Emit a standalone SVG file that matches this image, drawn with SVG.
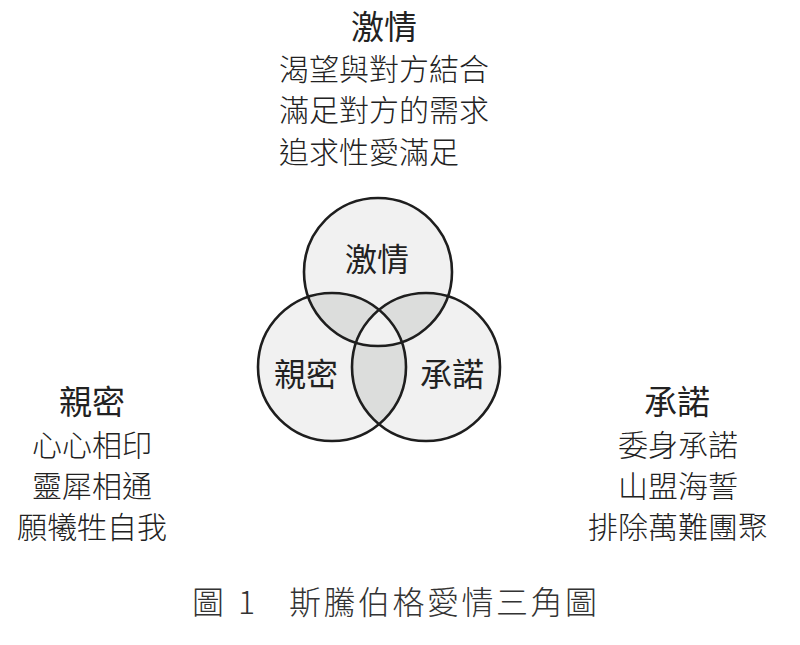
<svg xmlns="http://www.w3.org/2000/svg" width="800" height="645" viewBox="0 0 800 645">
<style>
text{font-family:"Noto Sans CJK TC","Noto Sans CJK SC",sans-serif;fill:#222;}
.h{font-size:33px;font-weight:400;text-anchor:middle;}
.b{font-size:30px;font-weight:300;}
.c{text-anchor:middle;}
.in{font-size:32px;font-weight:400;text-anchor:middle;}
.cap{font-size:32px;font-weight:300;fill:#333;}
.ring{fill:none;stroke:#1e1e1e;stroke-width:2.6;}
</style>
<defs>
<circle id="cT" cx="378" cy="272" r="74"/>
<circle id="cL" cx="332" cy="367" r="74"/>
<circle id="cR" cx="426" cy="367" r="74"/>
<clipPath id="kT"><use href="#cT"/></clipPath>
<clipPath id="kL"><use href="#cL"/></clipPath>
<clipPath id="kR"><use href="#cR"/></clipPath>
</defs>
<rect width="800" height="645" fill="#fff"/>
<g id="fills">
<use href="#cT" fill="#f1f1f1"/>
<use href="#cL" fill="#f1f1f1"/>
<use href="#cR" fill="#f1f1f1"/>
<g clip-path="url(#kT)"><use href="#cL" fill="#dcdddc"/><use href="#cR" fill="#dcdddc"/></g>
<g clip-path="url(#kL)"><use href="#cR" fill="#dcdddc"/></g>
<g clip-path="url(#kT)"><g clip-path="url(#kL)"><use href="#cR" fill="#f1f1f1"/></g></g>
</g>
<g id="passion-circle"><use href="#cT" class="ring"/><text class="in" x="377" y="271">激情</text></g>
<g id="intimacy-circle"><use href="#cL" class="ring"/><text class="in" x="306" y="386">親密</text></g>
<g id="commitment-circle"><use href="#cR" class="ring"/><text class="in" x="452" y="386">承諾</text></g>
<g id="passion-text">
<text class="h" x="384" y="39">激情</text>
<text class="b" x="279" y="80">渴望與對方結合</text>
<text class="b" x="279" y="121">滿足對方的需求</text>
<text class="b" x="279" y="163">追求性愛滿足</text>
</g>
<g id="intimacy-text">
<text class="h" x="92" y="414">親密</text>
<text class="b c" x="92" y="456">心心相印</text>
<text class="b c" x="92" y="497">靈犀相通</text>
<text class="b c" x="92" y="538">願犧牲自我</text>
</g>
<g id="commitment-text">
<text class="h" x="677" y="414">承諾</text>
<text class="b c" x="678" y="456">委身承諾</text>
<text class="b c" x="678" y="497">山盟海誓</text>
<text class="b c" x="678" y="538">排除萬難團聚</text>
</g>
<g id="caption">
<text class="cap" x="192" y="614">圖</text>
<text class="cap" x="238" y="614">1</text>
<text class="cap" x="289" y="614" letter-spacing="2.5">斯騰伯格愛情三角圖</text>
</g>
</svg>
